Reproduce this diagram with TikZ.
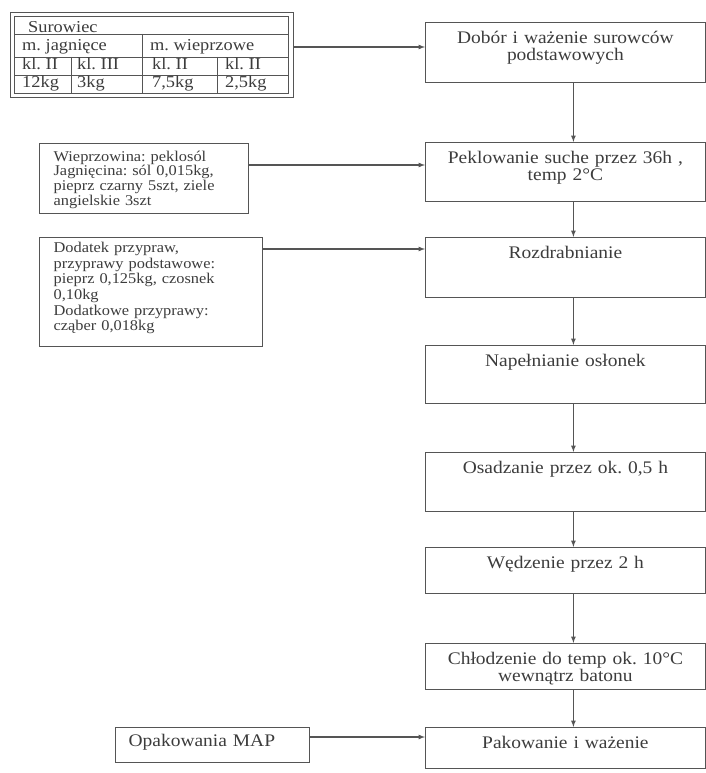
\documentclass[tikz,border=0pt]{standalone}
\usepackage{fontspec}
\setmainfont{Liberation Serif}[FakeStretch=1.1]
\usetikzlibrary{positioning}
\frenchspacing

\definecolor{ink}{HTML}{3C3C3C}
\definecolor{frame}{HTML}{555555}

\tikzset{
	stepbox/.style={draw=frame, line width=1.3pt, anchor=north west, text width=271pt, inner xsep=4.25pt, inner ysep=4pt, align=center, text height=17pt, text depth=#1, font=\fontsize{17.7}{16.5}\selectfont},
	notebox/.style={draw=frame, line width=1.2pt, anchor=north west, inner xsep=14pt, inner ysep=5pt, align=left, text depth=#1, font=\fontsize{14.9}{14.8}\selectfont},
	cell/.style={anchor=base west, inner sep=0pt, font=\fontsize{16.7}{18}\selectfont},
	arr/.style={frame, line width=1.2pt, -latex},
}

\begin{document}
\begin{tikzpicture}[x=1pt,y=-1pt,every node/.style={text=ink}]
	\useasboundingbox (0,0) rectangle (706,773);
	
	% raw materials table
	\node[draw=frame, line width=1pt, anchor=north west, minimum width=283.5pt, minimum height=85pt, inner sep=0pt] (surowiec) at (9.5,12) {};
	\draw[frame, line width=0.8pt] (14,16) rectangle (288.5,93);% inner frame
	\draw[frame, line width=0.8pt] (14,34) -- (288.5,34);
	\draw[frame, line width=0.8pt] (14,57) -- (288.5,57);
	\draw[frame, line width=0.8pt] (14,75) -- (288.5,75);
	\draw[frame, line width=0.8pt] (142,34) -- (142,93);
	\draw[frame, line width=0.8pt] (71,57) -- (71,93);
	\draw[frame, line width=0.8pt] (217,57) -- (217,93);
	\foreach \x/\y/\t [count=\i] in {28/32.5/Surowiec, 22/51/m. jagnięce, 150/51/m. wieprzowe,
		22/70/kl. II, 77/70/kl. III, 152/70/kl. II, 225/70/kl. II,
		22/87.5/12kg, 77/87.5/3kg, {152/87.5/7,5kg}, {225/87.5/2,5kg}}
		\node[cell] (cell\i) at (\x,\y) {\t};
	
	% process steps
	\node[stepbox=35pt] (dobor) at (425,22) {Dobór i ważenie surowców\\ podstawowych};
	\node[stepbox=34pt] (pekl) at (425,142) {Peklowanie suche przez 36h ,\\ temp 2°C};
	\node[stepbox=35pt] (rozdr) at (425,237) {Rozdrabnianie};
	\node[stepbox=33pt] (napel) at (425,345) {Napełnianie osłonek};
	\node[stepbox=34pt] (osadz) at (425,452) {Osadzanie przez ok. 0,5 h};
	\node[stepbox=21pt] (wedz) at (425,547) {Wędzenie przez 2 h};
	\node[stepbox=21pt] (chlodz) at (425,643) {Chłodzenie do temp ok. 10°C\\ wewnątrz batonu};
	\node[stepbox=16pt] (pakow) at (425,727) {Pakowanie i ważenie};
	
	\foreach \a/\b in {dobor/pekl, pekl/rozdr, rozdr/napel, napel/osadz, osadz/wedz, wedz/chlodz, chlodz/pakow}
		\draw[arr] ([xshift=8pt]\a.south) -- ([xshift=8pt]\b.north);
	
	% inputs on the left
	\node[notebox=47.5pt, text width=181pt, text height=12.5pt] (wiep) at (39,143) {Wieprzowina: peklosól\\ Jagnięcina: sól 0,015kg,\\ pieprz czarny 5szt, ziele\\ angielskie 3szt};
	\node[notebox=88.5pt, text width=195pt, text height=10pt, font=\fontsize{14.9}{15.6}\selectfont] (dodatek) at (39,237) {Dodatek przypraw,\\ przyprawy podstawowe:\\ pieprz 0,125kg, czosnek\\ 0,10kg\\ Dodatkowe przyprawy:\\ cząber 0,018kg};
	\node[draw=frame, line width=1.2pt, anchor=north west, minimum height=35pt, text width=168pt, inner xsep=13pt, align=left, text height=10pt, text depth=7pt, font=\fontsize{17.7}{18}\selectfont] (opak) at (115,727) {Opakowania MAP};
	
	\coordinate (lvl1) at (0,47);
	\coordinate (lvl2) at (0,165);
	\coordinate (lvl3) at (0,249);
	\coordinate (lvl4) at (0,737);
	\draw[arr] (surowiec.east |- lvl1) -- (dobor.west |- lvl1);
	\draw[arr] (wiep.east |- lvl2) -- (pekl.west |- lvl2);
	\draw[arr] (dodatek.east |- lvl3) -- (rozdr.west |- lvl3);
	\draw[arr] (opak.east |- lvl4) -- (pakow.west |- lvl4);
\end{tikzpicture}
\end{document}
